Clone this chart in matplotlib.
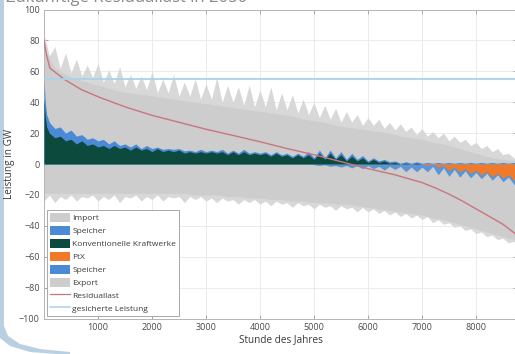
import numpy as np
import matplotlib
matplotlib.use("Agg")
import matplotlib.pyplot as plt
from matplotlib.patches import Patch, Polygon
from matplotlib.lines import Line2D

plt.rcParams['font.family'] = ['Open Sans', 'DejaVu Sans']

# ---------------- data ----------------
title = "Zukünftige Residuallast in 2050"
xticks = [1000, 2000, 3000, 4000, 5000, 6000, 7000, 8000]
yticks = [-100, -80, -60, -40, -20, 0, 20, 40, 60, 80, 100]
secured_capacity = 55

# hours at 100 h spacing (0 ... 8700) plus last hour 8760
hours = list(range(0, 8800, 100)) + [8760]
# hours at 200 h spacing (0 ... 8600) plus last hour 8760
hours2 = list(range(0, 8800, 200)) + [8760]

# Import: spike tips of the grey positive area, GW (100 h spacing)
import_peak = [84, 70, 76, 62, 72, 59, 68, 57, 64, 56,
               65, 53, 61, 52, 63, 50, 58, 49, 57, 48,
               60, 46, 55, 46, 58, 44, 53, 44, 55, 42,
               52, 42, 56, 40, 51, 40, 50, 38, 51, 37,
               48, 37, 50, 35, 46, 35, 45, 33, 42, 32,
               40, 30, 38, 29, 36, 27, 34, 27, 32, 25,
               30, 25, 29, 23, 27, 22, 26, 21, 24, 19,
               23, 18, 21, 17, 20, 15, 18, 14, 16, 12,
               14, 10, 12, 8, 10, 6, 7, 4, 3]
# Import: dense part of the grey positive area, GW (200 h spacing)
import_dense = [75, 62, 58, 55, 53, 51, 49, 47, 46, 45,
                44, 43, 42, 41, 40, 39, 38, 37, 36, 35,
                34, 33, 32, 31, 29, 28, 27, 25, 24, 23,
                22, 21, 20, 18, 17, 16, 14, 13, 11, 9,
                7, 5, 3.5, 2.5, 2]

# Export: spike tips of the grey negative area, GW (100 h spacing)
export_peak = [-24, -20, -25, -21, -23, -20, -24, -21, -22, -20,
               -24, -21, -23, -20, -25, -21, -22, -20, -24, -21,
               -23, -20, -24, -21, -22, -21, -25, -21, -23, -21,
               -24, -22, -25, -22, -24, -23, -26, -23, -25, -23,
               -26, -24, -27, -24, -26, -25, -28, -25, -27, -26,
               -29, -26, -28, -27, -30, -27, -29, -28, -31, -28,
               -31, -29, -32, -30, -33, -31, -34, -32, -35, -33,
               -36, -34, -38, -36, -39, -38, -41, -40, -43, -42,
               -45, -44, -47, -46, -49, -48, -51, -50, -53]
# Export: dense part of the grey negative area, GW (200 h spacing)
export_dense = [-19, -19, -19, -19, -19, -19, -19, -19, -19, -19,
                -19, -19, -19, -19, -20, -20, -20, -21, -21, -22,
                -22, -23, -23, -24, -24, -25, -25, -26, -26, -27,
                -28, -29, -30, -31, -32, -33, -35, -36, -38, -40,
                -42, -44, -46, -48, -49]

# first hours in finer detail for the generation stack
early_hours = [0, 25, 50]
early_konv = [42, 30, 24]
early_speicher = [12, 10, 8]

# Konventionelle Kraftwerke (positive), GW, hours 100 ... 8700, 8760
konv = [20, 17, 18, 15, 16, 13, 15, 12, 13,
        11, 12, 10, 12, 10, 11, 9, 11, 9, 10,
        8, 10, 8, 9, 8, 9, 7, 8, 7, 8,
        7, 8, 7, 8, 6, 8, 6, 8, 6, 7,
        6, 7, 5, 7, 5, 6, 4, 6, 4, 6,
        3, 7, 3, 7, 3, 6, 2, 5, 2, 4,
        1, 3, 1, 2, 0.5, 1, 0, 0.5, 0, 0.5,
        0, 0, 0, 0, 0, 0, 0, 0, 0, 0,
        0, 0, 0, 0, 0, 0, 0, 0, 0]

# Speicher (discharging, positive), GW, hours 100 ... 8700, 8760
speicher_pos = [7, 6, 6, 5, 6, 5, 4, 4, 4,
                4, 4, 3, 3, 2, 2, 2, 2, 1, 2,
                2, 1, 1.5, 1, 1.5, 1, 1.5, 1, 1, 1.5,
                1, 1, 1, 1.5, 1, 1, 1, 1.5, 1, 1,
                1, 1, 1, 1, 1, 1, 1, 1, 1, 2,
                1, 2, 1, 2, 1, 2, 1, 2, 1, 1.5,
                1, 1, 1, 1, 1, 1, 0.5, 1, 0.5, 1,
                0.5, 1, 0.5, 1, 0.5, 1, 0.5, 1, 0.5, 1,
                0.5, 1, 0.5, 1, 0.5, 1, 0.5, 1, 1]

# PtX (negative), GW, hours 7000 ... 8700, 8760
ptx = [0, 1, 0, 2, 1, 4, 2, 5, 3, 6,
       4, 7, 5, 8, 6, 9, 7, 10, 12]

# Speicher (charging, negative), GW, hours 5000 ... 8700, 8760
speicher_neg = [0.5, 1, 0.5, 1.5, 1, 2, 1, 2.5, 1, 3,
                1, 3, 1.5, 4, 1.5, 3.5, 1.5, 5, 2, 5,
                2, 4, 1.5, 5, 1.5, 4, 1.5, 3.5, 1.5, 3,
                1.5, 2.5, 1, 2.5, 1, 2.5, 1.5, 3, 3]

# Residuallast (sorted), anchor points
res_hours = [0, 50, 110, 390, 700, 1040, 1500, 2000, 2500, 3000, 3500,
             4000, 4500, 5000, 5500, 5850, 6000, 6500, 7000, 7250, 7500,
             7750, 8000, 8250, 8500, 8760]
res_load = [80, 70, 62, 54.5, 48, 43, 37, 31.5, 27, 22.5, 18.5,
            14.4, 10, 6, 1.5, -1.7, -3, -7, -12, -15.5, -19.5,
            -24, -29, -34, -39, -46]

# ---------------- colours ----------------
c_grey = '#cdcdcd'
c_grey_light = '#d8d8d8'
c_blue = '#4a8ad6'
c_green = '#0c4a3e'
c_orange = '#f07a2a'
c_red = '#c8767e'
c_lblue = '#a9d3e8'

# ---------------- figure ----------------
W, H = 515, 354
fig = plt.figure(figsize=(W / 100, H / 100), dpi=100)
fig.patch.set_facecolor('white')
ax = fig.add_axes([44 / W, 35.5 / H, 473 / W, 309 / H])

h_all = np.array(hours, dtype=float)
h_all2 = np.array(hours2, dtype=float)
h_pos = np.array(early_hours + hours[1:], dtype=float)
konv_all = np.array(early_konv + konv, dtype=float)
sp_all = np.array(early_speicher + speicher_pos, dtype=float)
h_ptx = np.array(hours[70:], dtype=float)
h_spn = np.array(hours[50:], dtype=float)

# grey import / export areas: spiky light tips + dense core
ax.fill_between(h_all, 0, import_peak, color=c_grey_light, lw=0, zorder=2)
ax.fill_between(h_all, 0, export_peak, color=c_grey_light, lw=0, zorder=2)
ax.fill_between(h_all2, 0, import_dense, color=c_grey, lw=0, zorder=2)
ax.fill_between(h_all2, 0, export_dense, color=c_grey, lw=0, zorder=2)

# positive stack: Konventionelle at bottom, Speicher above
ax.fill_between(h_pos, 0, konv_all + sp_all, color=c_blue, lw=0, zorder=3)
ax.fill_between(h_pos, 0, konv_all, color=c_green, lw=0, zorder=4)

# negative stack: PtX near zero, Speicher below
ptx_arr = np.array(ptx, dtype=float)
spn_arr = np.array(speicher_neg, dtype=float)
ptx_on_spn = np.interp(h_spn, h_ptx, ptx_arr, left=0)
ax.fill_between(h_spn, 0, -(ptx_on_spn + spn_arr), color=c_blue, lw=0,
                alpha=0.85, zorder=3)
ax.fill_between(h_ptx, 0, -ptx_arr, color=c_orange, lw=0, zorder=4)

# lines
ax.plot(res_hours, res_load, color=c_red, lw=1.0, zorder=5)
ax.axhline(secured_capacity, color=c_lblue, lw=1.3, zorder=5)

# axes styling
ax.set_xlim(0, 8760)
ax.set_ylim(-100, 100)
ax.set_xticks(xticks)
ax.set_yticks(yticks)
ax.tick_params(direction='in', length=3, width=0.6, colors='#9a9a9a',
               labelcolor='#4a4a4a', labelsize=6.5, top=True, right=True, pad=3)
ax.grid(True, color='#e8e8e8', lw=0.6, zorder=0)
ax.set_axisbelow(True)
for s in ax.spines.values():
    s.set_color('#b5b5b5')
    s.set_linewidth(0.7)
ax.set_xlabel('Stunde des Jahres', fontsize=7.2, color='#3a3a3a', labelpad=2)
ax.set_ylabel('Leistung in GW', fontsize=7.2, color='#3a3a3a', labelpad=3)

handles = [Patch(facecolor=c_grey, edgecolor='none', label='Import'),
           Patch(facecolor=c_blue, edgecolor='none', label='Speicher'),
           Patch(facecolor=c_green, edgecolor='none', label='Konventionelle Kraftwerke'),
           Patch(facecolor=c_orange, edgecolor='none', label='PtX'),
           Patch(facecolor=c_blue, edgecolor='none', label='Speicher'),
           Patch(facecolor=c_grey, edgecolor='none', label='Export'),
           Line2D([], [], color=c_red, lw=0.9, label='Residuallast'),
           Line2D([], [], color=c_lblue, lw=1.1, label='gesicherte Leistung')]
leg = ax.legend(handles=handles, loc='lower left', bbox_to_anchor=(0.006, 0.008),
                fontsize=6.0, frameon=True, fancybox=False, edgecolor='#9a9a9a',
                framealpha=1, handlelength=2.4, handleheight=1.35,
                handletextpad=0.3, labelspacing=0.42, borderpad=0.35,
                borderaxespad=0)
leg.get_frame().set_linewidth(0.6)
for t in leg.get_texts():
    t.set_color('#3a3a3a')
leg.set_zorder(10)

# title at the very top, cut off by the image edge as in the reference
fig.text(6 / W, 1 - 2.5 / H, title, fontsize=12, color='#8a8a8a',
         ha='left', va='baseline')

# light-blue frame at the left edge with a curved bottom
fig.patches.append(Polygon([[0, 1], [4 / W, 1], [4 / W, 1 - 326 / H],
                            [8 / W, 1 - 336 / H], [20 / W, 1 - 344 / H],
                            [40 / W, 1 - 349 / H], [70 / W, 1 - 352 / H],
                            [70 / W, 1 - 355 / H], [30 / W, 1 - 352 / H],
                            [10 / W, 1 - 346 / H], [0, 1 - 338 / H]],
                           closed=True, transform=fig.transFigure,
                           facecolor='#b9cfe2', edgecolor='none', zorder=-1))

fig.savefig('out.png', dpi=100)
